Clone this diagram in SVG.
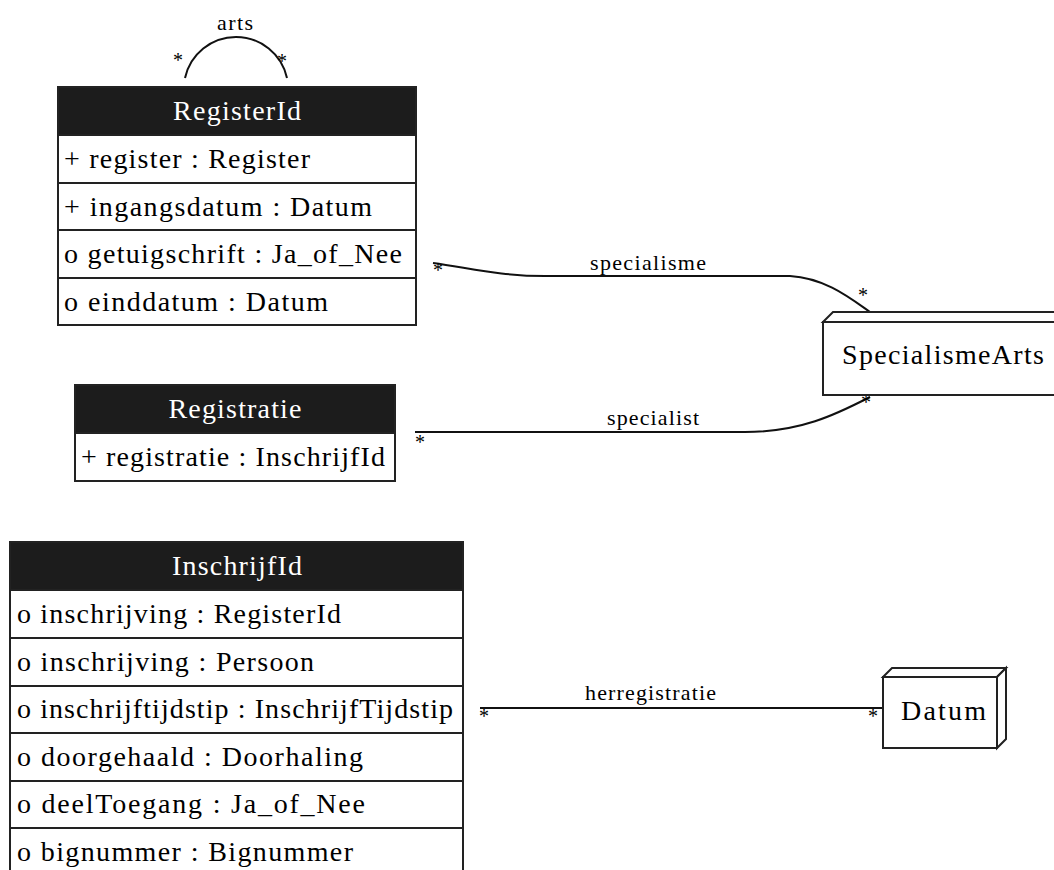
<svg xmlns="http://www.w3.org/2000/svg" width="1054" height="870" viewBox="0 0 1054 870">
<style>
.box{fill:#fff;stroke:#222;stroke-width:2}
.hdr{fill:#1c1c1c;stroke:#222;stroke-width:2}
.sep{stroke:#222;stroke-width:2}
.t{font-family:"Liberation Serif","Times New Roman",serif;font-size:28px;fill:#000}
.ht{font-family:"Liberation Serif","Times New Roman",serif;font-size:28px;fill:#fff;text-anchor:middle}
.lbl{font-family:"Liberation Serif","Times New Roman",serif;font-size:22px;fill:#000}
.m{font-family:"Liberation Serif","Times New Roman",serif;font-size:20px;fill:#000;text-anchor:middle}
.edge{fill:none;stroke:#111;stroke-width:2}
</style>
<rect width="1054" height="870" fill="#fff"/>
<g id="connectors">
  <path class="edge" d="M185,78 A52.2,52.2 0 0 1 287,78"/>
  <text class="lbl" x="217" y="30" textLength="36" lengthAdjust="spacing">arts</text>
  <text class="m" x="178" y="67">*</text>
  <text class="m" x="282" y="68">*</text>
  <path class="edge" d="M433,263 C470,268 500,276 545,276 L790,276 C825,278 850,298 870,312"/>
  <text class="lbl" x="590" y="270" textLength="116" lengthAdjust="spacing">specialisme</text>
  <text class="m" x="438" y="277">*</text>
  <text class="m" x="863" y="302">*</text>
  <path class="edge" d="M415,432 L745,432 C800,432 835,415 870,397"/>
  <text class="lbl" x="607" y="425" textLength="92" lengthAdjust="spacing">specialist</text>
  <text class="m" x="420" y="449">*</text>
  <text class="m" x="866" y="409">*</text>
  <path class="edge" d="M480,708 L883,708"/>
  <text class="lbl" x="585" y="700" textLength="131" lengthAdjust="spacing">herregistratie</text>
  <text class="m" x="484" y="723">*</text>
  <text class="m" x="873" y="723">*</text>
</g>
<g id="RegisterId">
  <rect class="box" x="58" y="87" width="358" height="238"/>
  <rect class="hdr" x="58" y="87" width="358" height="48"/>
  <line class="sep" x1="58" y1="183" x2="416" y2="183"/>
  <line class="sep" x1="58" y1="230" x2="416" y2="230"/>
  <line class="sep" x1="58" y1="278" x2="416" y2="278"/>
  <text class="ht" x="237" y="120" textLength="128" lengthAdjust="spacing">RegisterId</text>
  <text class="t" x="64" y="168" textLength="246" lengthAdjust="spacing">+ register : Register</text>
  <text class="t" x="64" y="216" textLength="308" lengthAdjust="spacing">+ ingangsdatum : Datum</text>
  <text class="t" x="64" y="263" textLength="338" lengthAdjust="spacing">o getuigschrift : Ja_of_Nee</text>
  <text class="t" x="64" y="311" textLength="264" lengthAdjust="spacing">o einddatum : Datum</text>
</g>
<g id="Registratie">
  <rect class="box" x="75" y="385" width="320" height="96"/>
  <rect class="hdr" x="75" y="385" width="320" height="48"/>
  <text class="ht" x="235" y="418" textLength="133" lengthAdjust="spacing">Registratie</text>
  <text class="t" x="81" y="466" textLength="304" lengthAdjust="spacing">+ registratie : InschrijfId</text>
</g>
<g id="InschrijfId">
  <rect class="box" x="10" y="542" width="453" height="340"/>
  <rect class="hdr" x="10" y="542" width="453" height="48"/>
  <line class="sep" x1="10" y1="638" x2="463" y2="638"/>
  <line class="sep" x1="10" y1="686" x2="463" y2="686"/>
  <line class="sep" x1="10" y1="733" x2="463" y2="733"/>
  <line class="sep" x1="10" y1="781" x2="463" y2="781"/>
  <line class="sep" x1="10" y1="828" x2="463" y2="828"/>
  <text class="ht" x="237" y="575" textLength="130" lengthAdjust="spacing">InschrijfId</text>
  <text class="t" x="17" y="623" textLength="324" lengthAdjust="spacing">o inschrijving : RegisterId</text>
  <text class="t" x="17" y="671" textLength="297" lengthAdjust="spacing">o inschrijving : Persoon</text>
  <text class="t" x="17" y="718" textLength="436" lengthAdjust="spacing">o inschrijftijdstip : InschrijfTijdstip</text>
  <text class="t" x="17" y="766" textLength="346" lengthAdjust="spacing">o doorgehaald : Doorhaling</text>
  <text class="t" x="17" y="813" textLength="348" lengthAdjust="spacing">o deelToegang : Ja_of_Nee</text>
  <text class="t" x="17" y="861" textLength="336" lengthAdjust="spacing">o bignummer : Bignummer</text>
</g>
<g id="SpecialismeArts">
  <polygon class="box" points="823,322 833,312 1080,312 1070,322"/>
  <rect class="box" x="823" y="322" width="250" height="73"/>
  <text class="t" x="842" y="364" textLength="202" lengthAdjust="spacing">SpecialismeArts</text>
</g>
<g id="Datum">
  <polygon class="box" points="883,677 892,668 1006,668 997,677"/>
  <polygon class="box" points="997,677 1006,668 1006,739 997,748"/>
  <rect class="box" x="883" y="677" width="114" height="71"/>
  <text class="t" x="901" y="720" textLength="85" lengthAdjust="spacing">Datum</text>
</g>
</svg>
